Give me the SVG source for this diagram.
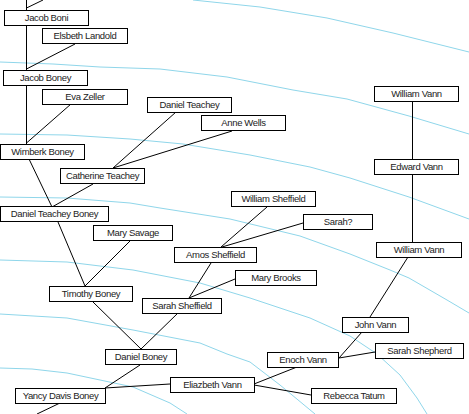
<svg xmlns="http://www.w3.org/2000/svg" width="469" height="414" viewBox="0 0 469 414">
<style>
.ring{fill:none;stroke:#8fd6ea;stroke-width:1}
.edge{fill:none;stroke:#000;stroke-width:1}
.box{fill:#fff;stroke:#000;stroke-width:1}
text{font-family:"Liberation Sans",Arial,sans-serif;font-size:9.5px;letter-spacing:-0.35px;fill:#222;text-anchor:middle}
</style>
<rect width="469" height="414" fill="#fff"/>
<g id="rings">
<polyline class="ring" points="193,0 260,7 327,18 393,33 469,52"/>
<polyline class="ring" points="0,62 53,64 100,67 160,69 227,77 293,90 347,99 409,116 469,134"/>
<polyline class="ring" points="0,134 67,135 130,139 183,144 250,155 310,167 350,178 409,197 469,219"/>
<polyline class="ring" points="0,197 67,198 130,203 160,208 230,219 300,236 350,254 390,270 409,278 447,300 469,313"/>
<polyline class="ring" points="0,260 67,262 133,270 200,283 250,298 310,318 350,336 377,354 400,375 417,398 427,414"/>
<polyline class="ring" points="0,314 67,318 133,330 200,343 227,354 250,362 280,385 315,414"/>
<polyline class="ring" points="0,368 32,369 67,373 133,387 170,403 187,414"/>
</g>
<g id="connectors">
<line class="edge" x1="26.5" y1="0" x2="26.5" y2="10"/>
<line class="edge" x1="26.5" y1="8" x2="43" y2="0"/>
<line class="edge" x1="26.5" y1="25" x2="26.5" y2="70"/>
<line class="edge" x1="75" y1="44" x2="26.5" y2="69"/>
<line class="edge" x1="26.5" y1="85" x2="26.5" y2="144"/>
<line class="edge" x1="71" y1="104" x2="26.5" y2="143"/>
<line class="edge" x1="29" y1="159" x2="52" y2="207"/>
<line class="edge" x1="93" y1="184" x2="52" y2="207"/>
<line class="edge" x1="176" y1="112" x2="113" y2="168"/>
<line class="edge" x1="232" y1="131" x2="113" y2="168"/>
<line class="edge" x1="58" y1="222" x2="85" y2="286"/>
<line class="edge" x1="130" y1="241" x2="85" y2="286"/>
<line class="edge" x1="93" y1="302" x2="141" y2="349"/>
<line class="edge" x1="178" y1="313" x2="141" y2="349"/>
<line class="edge" x1="140" y1="365" x2="105" y2="388"/>
<line class="edge" x1="170" y1="384" x2="105" y2="388"/>
<line class="edge" x1="60" y1="403" x2="37" y2="414"/>
<line class="edge" x1="297" y1="367" x2="254" y2="384"/>
<line class="edge" x1="311" y1="395" x2="254" y2="385"/>
<line class="edge" x1="362" y1="332" x2="339" y2="358"/>
<line class="edge" x1="375" y1="352" x2="339" y2="358"/>
<line class="edge" x1="408" y1="257" x2="370" y2="317"/>
<line class="edge" x1="412.5" y1="174" x2="412.5" y2="242"/>
<line class="edge" x1="412.5" y1="101" x2="412.5" y2="159"/>
<line class="edge" x1="267" y1="207" x2="221" y2="247"/>
<line class="edge" x1="303" y1="223" x2="222" y2="247"/>
<line class="edge" x1="211" y1="263" x2="189" y2="298"/>
<line class="edge" x1="235" y1="279" x2="189" y2="298"/>
</g>
<g id="n-jacob-boni"><rect class="box" x="4.5" y="10.5" width="84" height="15"/><text x="46.5" y="21">Jacob Boni</text></g>
<g id="n-elsbeth-landold"><rect class="box" x="42.5" y="28.5" width="85" height="15"/><text x="85" y="39">Elsbeth Landold</text></g>
<g id="n-jacob-boney"><rect class="box" x="3.5" y="70.5" width="84" height="15"/><text x="45.5" y="81">Jacob Boney</text></g>
<g id="n-eva-zeller"><rect class="box" x="42.5" y="89.5" width="85" height="15"/><text x="85" y="100">Eva Zeller</text></g>
<g id="n-wimberk-boney"><rect class="box" x="0.5" y="144.5" width="84" height="15"/><text x="42.5" y="155">Wimberk Boney</text></g>
<g id="n-catherine-teachey"><rect class="box" x="60.5" y="168.5" width="84" height="15"/><text x="102.5" y="179">Catherine Teachey</text></g>
<g id="n-daniel-teachey-boney"><rect class="box" x="0.5" y="206.5" width="108" height="15"/><text x="54.5" y="217">Daniel Teachey Boney</text></g>
<g id="n-mary-savage"><rect class="box" x="93.5" y="225.5" width="79" height="15"/><text x="133" y="236">Mary Savage</text></g>
<g id="n-timothy-boney"><rect class="box" x="49.5" y="286.5" width="83" height="15"/><text x="91" y="297">Timothy Boney</text></g>
<g id="n-sarah-sheffield"><rect class="box" x="142.5" y="298.5" width="79" height="15"/><text x="182" y="309">Sarah Sheffield</text></g>
<g id="n-daniel-boney"><rect class="box" x="105.5" y="349.5" width="71" height="15"/><text x="141" y="360">Daniel Boney</text></g>
<g id="n-yancy-davis-boney"><rect class="box" x="15.5" y="388.5" width="90" height="15"/><text x="60.5" y="399">Yancy Davis Boney</text></g>
<g id="n-eliazbeth-vann"><rect class="box" x="170.5" y="377.5" width="84" height="15"/><text x="212.5" y="388">Eliazbeth Vann</text></g>
<g id="n-rebecca-tatum"><rect class="box" x="311.5" y="388.5" width="85" height="15"/><text x="354" y="399">Rebecca Tatum</text></g>
<g id="n-enoch-vann"><rect class="box" x="267.5" y="352.5" width="71" height="15"/><text x="303" y="363">Enoch Vann</text></g>
<g id="n-john-vann"><rect class="box" x="342.5" y="317.5" width="66" height="15"/><text x="375.5" y="328">John Vann</text></g>
<g id="n-sarah-shepherd"><rect class="box" x="375.5" y="343.5" width="88" height="15"/><text x="419.5" y="354">Sarah Shepherd</text></g>
<g id="n-william-vann-2"><rect class="box" x="376.5" y="242.5" width="85" height="15"/><text x="419" y="253">William Vann</text></g>
<g id="n-edward-vann"><rect class="box" x="374.5" y="159.5" width="84" height="15"/><text x="416.5" y="170">Edward Vann</text></g>
<g id="n-william-vann-1"><rect class="box" x="374.5" y="86.5" width="84" height="15"/><text x="416.5" y="97">William Vann</text></g>
<g id="n-daniel-teachey"><rect class="box" x="147.5" y="97.5" width="84" height="15"/><text x="189.5" y="108">Daniel Teachey</text></g>
<g id="n-anne-wells"><rect class="box" x="201.5" y="115.5" width="84" height="15"/><text x="243.5" y="126">Anne Wells</text></g>
<g id="n-william-sheffield"><rect class="box" x="231.5" y="191.5" width="84" height="15"/><text x="273.5" y="202">William Sheffield</text></g>
<g id="n-sarah-q"><rect class="box" x="303.5" y="214.5" width="69" height="15"/><text x="338" y="225">Sarah?</text></g>
<g id="n-amos-sheffield"><rect class="box" x="174.5" y="247.5" width="82" height="15"/><text x="215.5" y="258">Amos Sheffield</text></g>
<g id="n-mary-brooks"><rect class="box" x="235.5" y="270.5" width="81" height="15"/><text x="276" y="281">Mary Brooks</text></g>
</svg>
